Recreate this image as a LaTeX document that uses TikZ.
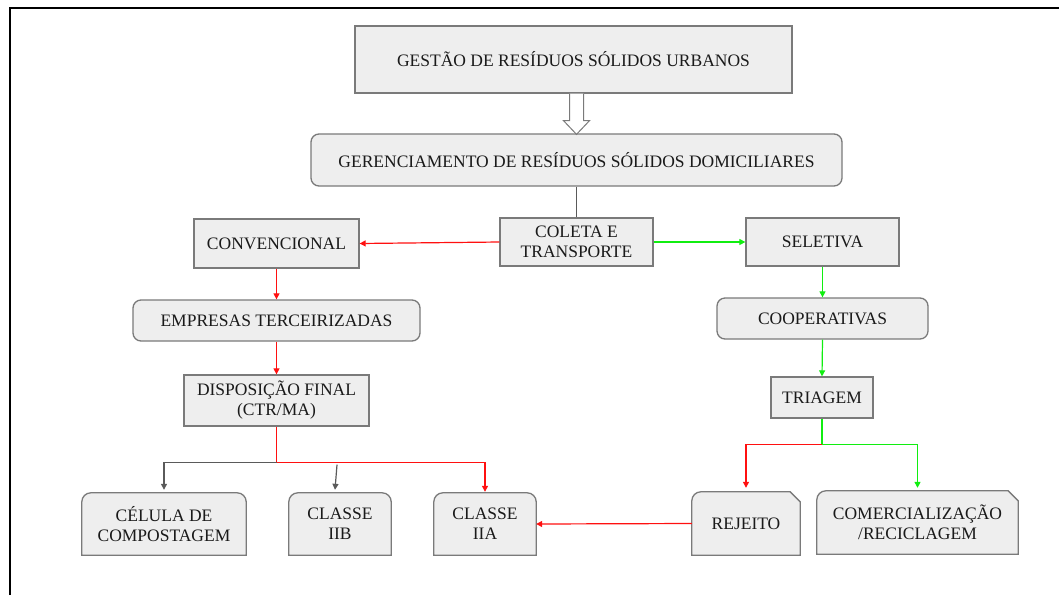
\documentclass[tikz,border=0pt]{standalone}
\usepackage{fontspec}
\setmainfont{Liberation Serif}
\usetikzlibrary{arrows.meta,calc}
\definecolor{boxfill}{HTML}{EEEEEE}
\definecolor{boxline}{HTML}{7A7A7A}
\definecolor{txt}{HTML}{1A1A1A}
\definecolor{lnred}{HTML}{FF1010}
\definecolor{lngreen}{HTML}{10EE10}
\definecolor{lngray}{HTML}{5A5A5A}
\pgfdeclarelayer{bg}
\pgfsetlayers{bg,main}
\newcommand\TopRoundBox[1]{%
  \path[shp] (#1.south west) -- ([yshift=-9pt]#1.north west)
    arc[start angle=180,end angle=90,radius=9pt]
    -- ([xshift=-9pt]#1.north east)
    arc[start angle=90,end angle=0,radius=9pt]
    -- (#1.south east) -- cycle;}
\newcommand\SnipRoundBox[1]{%
  \path[shp] (#1.south west) -- ([yshift=-9pt]#1.north west)
    arc[start angle=180,end angle=90,radius=9pt]
    -- ([xshift=-10pt]#1.north east)
    -- ([yshift=-10pt]#1.north east)
    -- (#1.south east) -- cycle;}
\begin{document}
\begin{tikzpicture}[x=1pt,y=1pt,
  font=\fontsize{17.5}{20}\selectfont,
  base/.style={text=txt, align=center, inner sep=0pt},
  sqbox/.style={base, draw=boxline, fill=boxfill, line width=1.3pt},
  rdbox/.style={sqbox, rounded corners=8pt},
  shp/.style={draw=boxline, fill=boxfill, line width=1.3pt},
  hollow/.style={draw=boxline, fill=white, line width=1pt, line join=miter},
  tip/.style={-{Triangle[length=6pt,width=6pt]}},
  redln/.style={draw=lnred, line width=1.2pt},
  greenln/.style={draw=lngreen, line width=1.2pt},
  grayln/.style={draw=lngray, line width=1.2pt}
]
\useasboundingbox (0,0) rectangle (1059,-595);
\draw[line width=2pt] (10,-595) -- (10,-8) -- (1059,-8);

% nodes
\node[sqbox, minimum width=437pt, minimum height=67pt] (gest) at (573.5,-59.5) {GESTÃO DE RESÍDUOS SÓLIDOS URBANOS};
\node[rdbox, minimum width=531pt, minimum height=52pt] (ger) at (576.5,-160) {GERENCIAMENTO DE RESÍDUOS SÓLIDOS DOMICILIARES};
\node[sqbox, minimum width=153pt, minimum height=48pt] (col) at (576.5,-242) {COLETA E\\TRANSPORTE};
\node[sqbox, minimum width=165pt, minimum height=49pt] (conv) at (276.5,-243.5) {CONVENCIONAL};
\node[sqbox, minimum width=153pt, minimum height=48pt] (sel) at (822.5,-242) {SELETIVA};
\node[rdbox, minimum width=287pt, minimum height=41pt] (emp) at (276.5,-320.5) {EMPRESAS TERCEIRIZADAS};
\node[rdbox, minimum width=211pt, minimum height=41pt] (coop) at (822.5,-318.5) {COOPERATIVAS};
\node[sqbox, minimum width=185pt, minimum height=51pt] (disp) at (276.5,-400.5) {DISPOSIÇÃO FINAL\\(CTR/MA)};
\node[sqbox, minimum width=102pt, minimum height=41pt] (tri) at (822,-397.5) {TRIAGEM};
\node[base, minimum width=164pt, minimum height=62pt] (cel) at (164,-524) {CÉLULA DE\\COMPOSTAGEM};
\node[base, minimum width=102pt, minimum height=62pt] (iib) at (340,-524) {CLASSE\\IIB};
\node[base, minimum width=102pt, minimum height=62pt] (iia) at (485,-524) {CLASSE\\IIA};
\node[base, minimum width=108pt, minimum height=63pt] (rej) at (746,-523.5) {REJEITO};
\node[base, minimum width=201pt, minimum height=63pt] (com) at (917.5,-522.5) {COMERCIALIZAÇÃO\\/RECICLAGEM};

\begin{pgfonlayer}{bg}
\fill[white] (0,0) rectangle (1059,-595);
\TopRoundBox{cel}
\TopRoundBox{iib}
\TopRoundBox{iia}
\SnipRoundBox{rej}
\SnipRoundBox{com}
\end{pgfonlayer}

% hollow arrow
\coordinate (ha) at (ger.north |- gest.south);
\draw[hollow] ([xshift=-7pt]ha) -- ([xshift=-7pt,yshift=-27pt]ha) -- ([xshift=-13pt,yshift=-27pt]ha) -- ([yshift=-1pt]ger.north) -- ([xshift=13pt,yshift=-27pt]ha) -- ([xshift=7pt,yshift=-27pt]ha) -- ([xshift=7pt]ha);

% connectors
\draw[grayln] (ger.south) -- (col.north);
\draw[redln, tip] (col.west) -- (conv.east);
\draw[greenln, tip] (col.east) -- (sel.west);
\draw[redln, tip] (conv.south) -- (emp.north);
\draw[redln, tip] (emp.south) -- (disp.south |- disp.north);
\draw[greenln, tip] (sel.south) -- (coop.north);
\draw[greenln, tip] (coop.south) -- (tri.north);

\draw[redln] (disp.south) -- ++(0,-36) coordinate (j1);
\draw[grayln, tip] (j1) -| ([yshift=3pt]cel.north);
\draw[grayln, tip] ([xshift=-3pt,yshift=-2pt]iib.north |- j1) -- ([xshift=-5pt,yshift=3pt]iib.north);
\draw[redln, tip] (j1) -| ([yshift=1pt]iia.north);

\draw[greenln] (tri.south) -- ++(0,-26) coordinate (j2);
\draw[redln, tip] (j2) -| ([yshift=4pt]rej.north);
\draw[greenln, tip] (j2) -| ([yshift=3pt]com.north);
\draw[redln, tip] (rej.west) -- (iia.east);
\end{tikzpicture}
\end{document}
